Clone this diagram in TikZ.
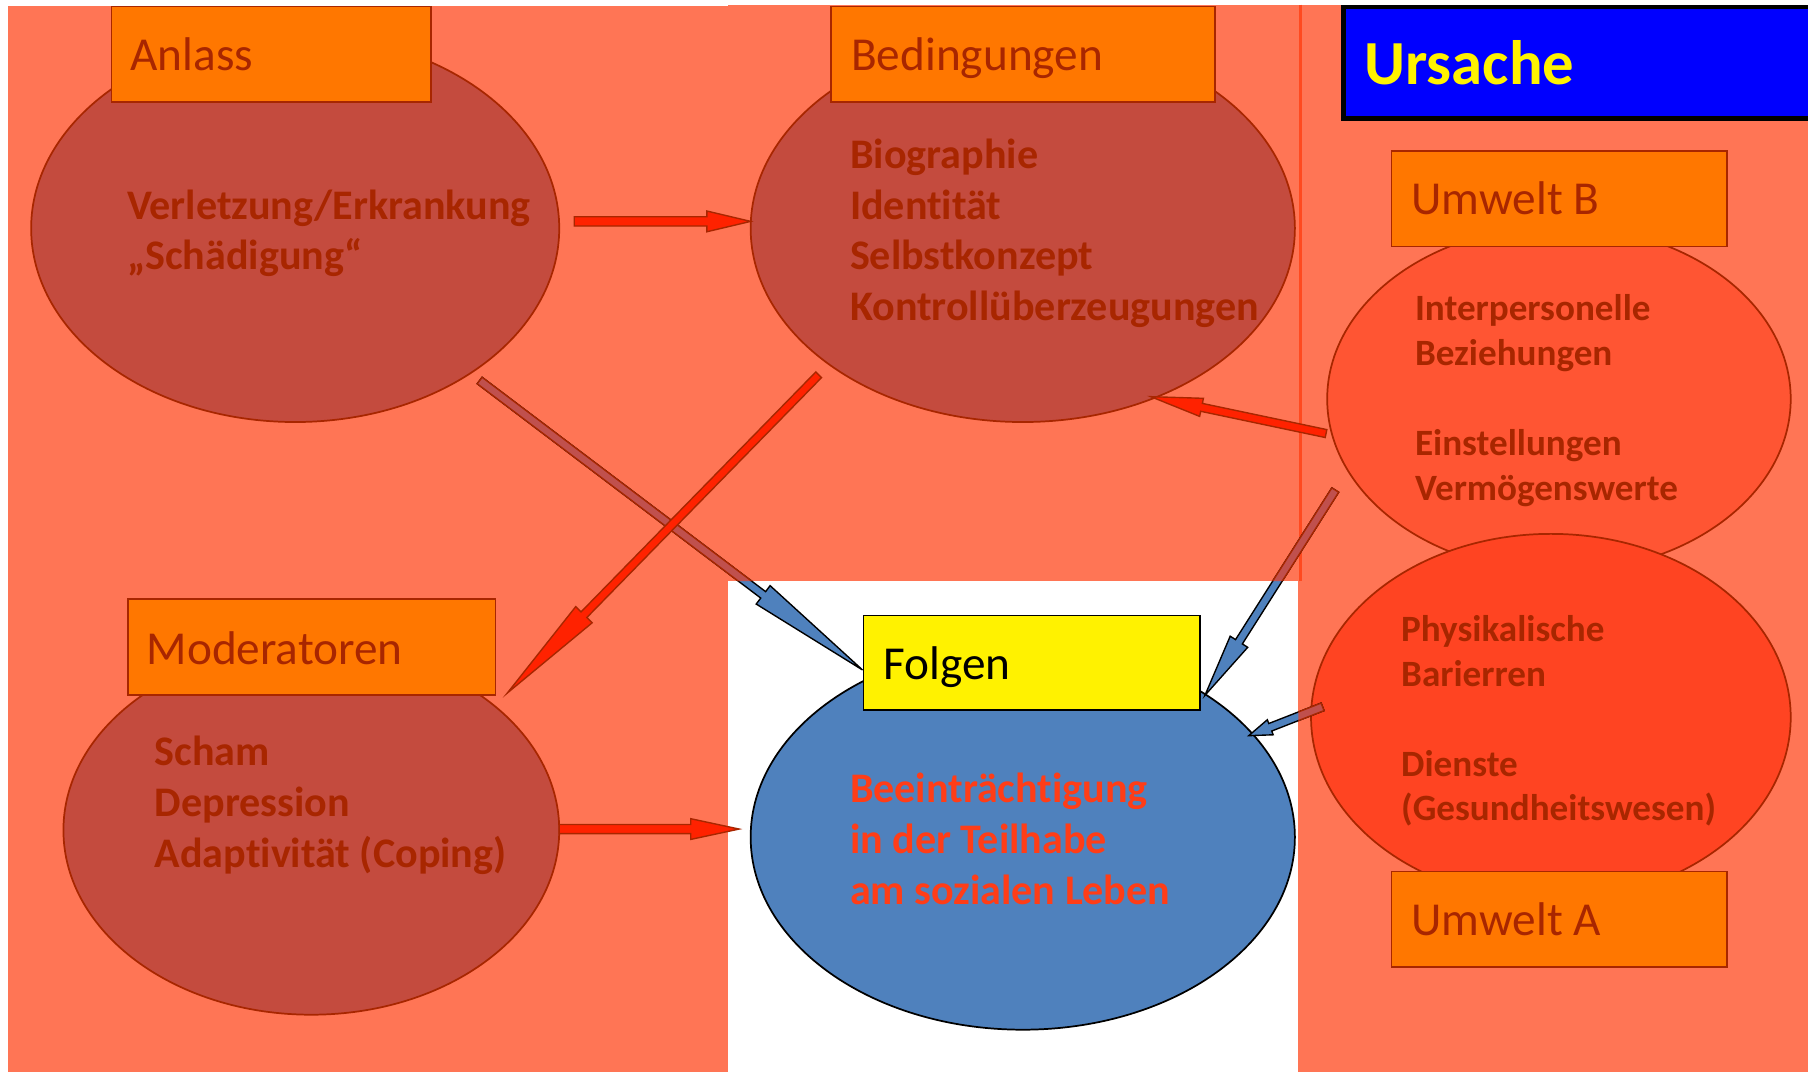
\documentclass[tikz,border=0pt]{standalone}
\usepackage{fontspec}
\setmainfont{Carlito}[Ligatures=NoCommon]
\usetikzlibrary{shapes.geometric,calc}
\definecolor{salmon}{HTML}{FF7555}
\definecolor{ellred}{HTML}{C44B3E}
\definecolor{dred}{HTML}{A82600}
\definecolor{boxor}{HTML}{FF7700}
\definecolor{envB}{HTML}{FF5533}
\definecolor{envA}{HTML}{FF4422}
\definecolor{folblue}{HTML}{4F81BD}
\definecolor{arrred}{HTML}{FF2200}
\definecolor{arrbrown}{HTML}{C0504D}
\definecolor{txtred}{HTML}{FF3D17}
\definecolor{edgeline}{HTML}{FF4A1F}
\tikzset{
  ell/.style={ellipse, draw=dred, line width=1.5pt, inner sep=0pt},
  lblbox/.style={rectangle, fill=boxor, draw=dred, line width=1.5pt, inner sep=0pt, anchor=north west},
  lbltext/.style={font=\fontsize{41}{49}\selectfont, text=dred, anchor=base west, inner sep=0pt},
  elltext/.style={font=\fontsize{36.5}{44}\selectfont\bfseries, text=dred, align=left, anchor=base west, inner sep=0pt},
  envtext/.style={font=\fontsize{32.2}{39}\selectfont\bfseries, text=dred, align=left, anchor=base west, inner sep=0pt},
  redarr/.style={fill=arrred, draw=dred, line width=1.2pt, line join=miter},
  bluearr/.style={fill=folblue, draw=black, line width=1.2pt, line join=miter},
  brownarr/.style={fill=arrbrown, draw=dred, line width=1.2pt, line join=miter},
}
% #1 style, #2 start, #3 end, #4 shaft half width, #5 head half width, #6 head length
\newcommand\blockarr[6]{%
  \coordinate (ba) at (#2); \coordinate (bb) at (#3);
  \coordinate (bh) at ($(bb)!#6pt!(ba)$);
  \path[#1] ($(ba)!#4pt!90:(bb)$) -- ($(bh)!#4pt!90:(bb)$) -- ($(bh)!#5pt!90:(bb)$) -- (bb)
     -- ($(bh)!#5pt!-90:(bb)$) -- ($(bh)!#4pt!-90:(bb)$) -- ($(ba)!#4pt!-90:(bb)$) -- cycle;
}
\begin{document}
\begin{tikzpicture}[x=1pt,y=-1pt]
\useasboundingbox (0,0) rectangle (1568,930);
\fill[white] (0,0) rectangle (1568,930);
% panels
\fill[salmon] (7,5) rectangle (631,930);
\fill[salmon] (631,4) rectangle (1128,504);
\fill[salmon] (1126,4) rectangle (1568,930);
\draw[edgeline, line width=3pt] (1128,4) -- (1128,504);

% ellipses
\node[ell, fill=ellred, minimum width=458pt, minimum height=336pt] (anlass) at (256,198) {};
\node[ell, fill=ellred, minimum width=472pt, minimum height=336pt] (bed) at (887,198) {};
\node[ell, fill=ellred, minimum width=430pt, minimum height=320pt] (mod) at (270,720) {};
\node[ellipse, draw=black, line width=1.5pt, inner sep=0pt, fill=folblue, minimum width=472pt, minimum height=334pt] (folg) at (887,726) {};
\node[ell, fill=envB, minimum width=402pt, minimum height=300pt] (umwB) at (1352,346) {};
\node[ell, fill=envA, minimum width=416pt, minimum height=318pt] (umwA) at (1345,622) {};

% arrow end points
\coordinate (a1s) at (498,192);  \coordinate (a1e) at (651,192);
\coordinate (a2s) at (710,325);  \coordinate (a2e) at (440,601);
\coordinate (a3s) at (416,330);  \coordinate (a3e) at (748,581);
\coordinate (a4s) at (1150,376); \coordinate (a4e) at (998,344);
\coordinate (a5s) at (1158,425); \coordinate (a5e) at (1045,603);
\coordinate (a6s) at (1147,613); \coordinate (a6e) at (1083,638);
\coordinate (a7s) at (485,719);  \coordinate (a7e) at (641,719);

% blue arrows (shaded where they cross the coloured panels)
\blockarr{bluearr}{a3s}{a3e}{3.5}{10}{108}
\blockarr{bluearr}{a5s}{a5e}{3.5}{9}{55}
\blockarr{bluearr}{a6s}{a6e}{3.5}{7}{20}
\begin{scope}
  \clip (7,5) rectangle (631,930) (631,4) rectangle (1128,504) (1126,4) rectangle (1568,930);
  \blockarr{brownarr}{a3s}{a3e}{3.5}{10}{108}
  \blockarr{brownarr}{a5s}{a5e}{3.5}{9}{55}
  \blockarr{brownarr}{a6s}{a6e}{3.5}{7}{20}
\end{scope}

% red arrows
\blockarr{redarr}{a1s}{a1e}{4}{9}{38}
\blockarr{redarr}{a2s}{a2e}{3.5}{10}{95}
\blockarr{redarr}{a4s}{a4e}{3.5}{8}{45}
\blockarr{redarr}{a7s}{a7e}{4}{9}{42}

% label boxes
\node[lblbox, minimum width=277pt, minimum height=83pt] (anlassbox) at (96,5) {};
\node[lblbox, minimum width=333pt, minimum height=83pt] (bedbox) at (720,5) {};
\node[lblbox, minimum width=319pt, minimum height=83pt] (modbox) at (110,519) {};
\node[lblbox, minimum width=291pt, minimum height=83pt] (umwBbox) at (1206,130) {};
\node[lblbox, minimum width=291pt, minimum height=83pt] (umwAbox) at (1206,755) {};
\node[rectangle, fill=yellow, draw=black, line width=1.5pt, inner sep=0pt, anchor=north west, minimum width=292pt, minimum height=82pt] (folgbox) at (748,533) {};
\node[rectangle, fill=blue, draw=black, line width=4pt, inner sep=0pt, anchor=north west, minimum width=430pt, minimum height=97pt] (ursbox) at (1163,4) {};

% label texts
\node[lbltext] (anlasslbl) at (113,61) {Anlass};
\node[lbltext] (bedlbl) at (738,61) {Bedingungen};
\node[lbltext] (modlbl) at (127,576) {Moderatoren};
\node[lbltext] (umwBlbl) at (1224,186) {Umwelt B};
\node[lbltext] (umwAlbl) at (1224,811) {Umwelt A};
\node[lbltext, text=black] (folglbl) at (766,589) {Folgen};
\node[font=\fontsize{54.4}{60}\selectfont\bfseries, text=yellow, anchor=base west, inner sep=0pt] (urslbl) at (1183,73) {Ursache};

% ellipse texts (anchored at the baseline of the last line)
\node[elltext] (anlasstxt) at (110,234) {Verletzung/Erkrankung\\„Schädigung“};
\node[elltext] (bedtxt) at (737,278) {Biographie\\Identität\\Selbstkonzept\\Kontrollüberzeugungen};
\node[elltext] (modtxt) at (134,752) {Scham\\Depression\\Adaptivität (Coping)};
\node[elltext, text=txtred] (folgtxt) at (737,784) {Beeinträchtigung\\in der Teilhabe\\am sozialen Leben};
\node[envtext] (umwBtxt) at (1227,434) {Interpersonelle\\Beziehungen\\[39pt]Einstellungen\\Vermögenswerte};
\node[envtext] (umwAtxt) at (1215,712) {Physikalische\\Barierren\\[39pt]Dienste\\(Gesundheitswesen)};
\end{tikzpicture}
\end{document}
